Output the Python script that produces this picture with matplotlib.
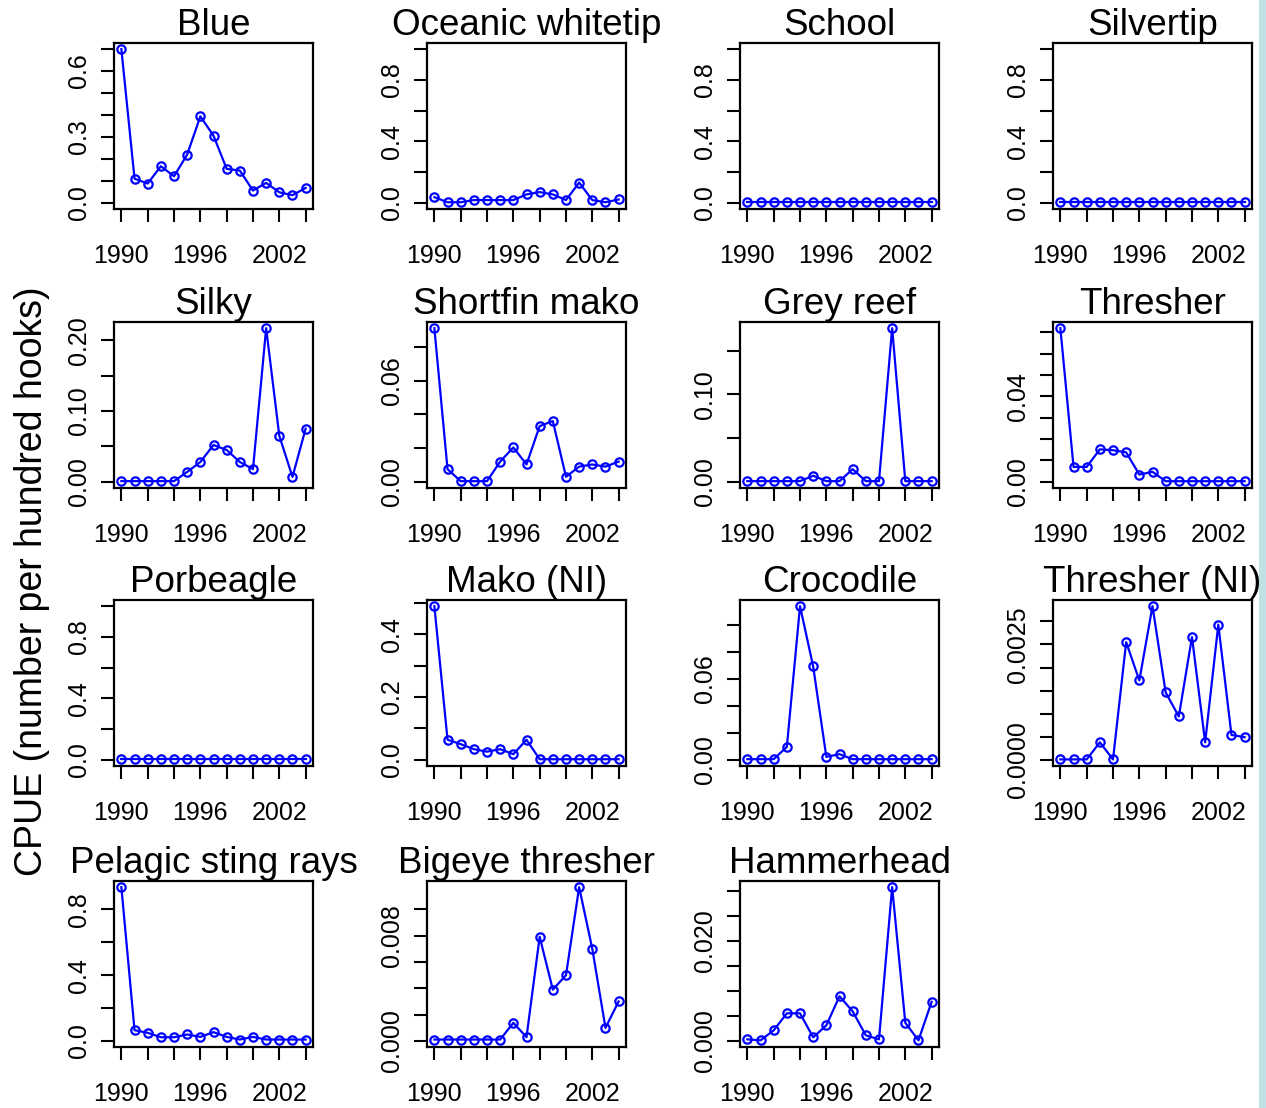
import matplotlib
matplotlib.use("Agg")
import matplotlib.pyplot as plt
from matplotlib.patches import Rectangle

plt.rcParams['font.family'] = ['Liberation Sans', 'DejaVu Sans']

# 年份与横轴刻度
years = list(range(1990, 2005))
x_ticks = list(range(1990, 2005, 2))
x_tick_labels = ['1990', '', '', '1996', '', '', '2002', '']

species = ['Blue', 'Oceanic whitetip', 'School', 'Silvertip',
           'Silky', 'Shortfin mako', 'Grey reef', 'Thresher',
           'Porbeagle', 'Mako (NI)', 'Crocodile', 'Thresher (NI)',
           'Pelagic sting rays', 'Bigeye thresher', 'Hammerhead']

# 每个物种的 CPUE（1990-2004）
blue = [0.70, 0.11, 0.088, 0.167, 0.121, 0.22, 0.394, 0.306, 0.155, 0.147,
        0.056, 0.091, 0.048, 0.035, 0.068]
oceanic_whitetip = [0.037, 0.004, 0.004, 0.018, 0.018, 0.018, 0.018, 0.055,
                    0.07, 0.055, 0.018, 0.132, 0.018, 0.004, 0.022]
school = [0.003] * 15
silvertip = [0.003] * 15
silky = [0.001, 0.001, 0.001, 0.001, 0.001, 0.014, 0.028, 0.052, 0.045, 0.028,
         0.018, 0.217, 0.065, 0.007, 0.075]
shortfin_mako = [0.091, 0.0075, 0.0004, 0.0004, 0.0004, 0.012, 0.0204, 0.0103,
                 0.033, 0.036, 0.003, 0.009, 0.0103, 0.009, 0.012]
grey_reef = [0.0008, 0.0008, 0.0008, 0.0008, 0.0008, 0.007, 0.0008, 0.0008,
             0.0145, 0.0008, 0.0008, 0.1756, 0.0008, 0.0008, 0.0008]
thresher = [0.0719, 0.0070, 0.0070, 0.0152, 0.0148, 0.0138, 0.0034, 0.0047,
            0.0003, 0.0003, 0.0003, 0.0003, 0.0003, 0.0003, 0.0003]
porbeagle = [0.003] * 15
mako_ni = [0.489, 0.064, 0.050, 0.034, 0.026, 0.034, 0.018, 0.064, 0.002,
           0.002, 0.002, 0.002, 0.002, 0.002, 0.002]
crocodile = [0.0005, 0.0005, 0.0005, 0.0096, 0.1136, 0.069, 0.0022, 0.0042,
             0.0005, 0.0005, 0.0005, 0.0005, 0.0005, 0.0005, 0.0005]
thresher_ni = [0.00001, 0.00001, 0.00001, 0.00038, 0.00001, 0.00255, 0.00172,
               0.00333, 0.00146, 0.00094, 0.00266, 0.00038, 0.00293, 0.00054,
               0.00049]
pelagic_sting_rays = [0.936, 0.065, 0.049, 0.022, 0.022, 0.039, 0.024, 0.053,
                      0.024, 0.008, 0.024, 0.008, 0.008, 0.008, 0.008]
bigeye_thresher = [0.0001, 0.0001, 0.0001, 0.0001, 0.0001, 0.0001, 0.00137,
                   0.00028, 0.00792, 0.0039, 0.005, 0.0117, 0.0070, 0.00099,
                   0.0030]
hammerhead = [0.0003, 0.0001, 0.0021, 0.0055, 0.0055, 0.0007, 0.0031, 0.0089,
              0.0059, 0.0011, 0.0003, 0.0307, 0.0036, 0.0001, 0.0078]

series = [blue, oceanic_whitetip, school, silvertip,
          silky, shortfin_mako, grey_reef, thresher,
          porbeagle, mako_ni, crocodile, thresher_ni,
          pelagic_sting_rays, bigeye_thresher, hammerhead]

# 纵轴上限固定为 1 的物种
fixed_top = {'Oceanic whitetip': 1.0, 'School': 1.0, 'Silvertip': 1.0,
             'Porbeagle': 1.0}

# 纵轴刻度及显示的标签（重叠的标签留空）
unit_ticks = [0.0, 0.2, 0.4, 0.6, 0.8, 1.0]
unit_labels = ['0.0', '', '0.4', '', '0.8', '']
y_ticks = [
    [0.0, 0.1, 0.2, 0.3, 0.4, 0.5, 0.6, 0.7],
    unit_ticks, unit_ticks, unit_ticks,
    [0.0, 0.05, 0.10, 0.15, 0.20],
    [0.0, 0.02, 0.04, 0.06, 0.08],
    [0.0, 0.05, 0.10, 0.15],
    [0.0, 0.01, 0.02, 0.03, 0.04, 0.05, 0.06, 0.07],
    unit_ticks,
    [0.0, 0.1, 0.2, 0.3, 0.4, 0.5],
    [0.0, 0.02, 0.04, 0.06, 0.08, 0.10],
    [0.0, 0.0005, 0.0010, 0.0015, 0.0020, 0.0025, 0.0030],
    [0.0, 0.2, 0.4, 0.6, 0.8],
    [0.0, 0.002, 0.004, 0.006, 0.008, 0.010],
    [0.0, 0.005, 0.010, 0.015, 0.020, 0.025, 0.030],
]
y_tick_labels = [
    ['0.0', '', '', '0.3', '', '', '0.6', ''],
    unit_labels, unit_labels, unit_labels,
    ['0.00', '', '0.10', '', '0.20'],
    ['0.00', '', '', '0.06', ''],
    ['0.00', '', '0.10', ''],
    ['0.00', '', '', '', '0.04', '', '', ''],
    unit_labels,
    ['0.0', '', '0.2', '', '0.4', ''],
    ['0.00', '', '', '0.06', '', ''],
    ['0.0000', '', '', '', '', '0.0025', ''],
    ['0.0', '', '0.4', '', '0.8'],
    ['0.000', '', '', '', '0.008', ''],
    ['0.000', '', '', '', '0.020', '', ''],
]

W, H = 1266, 1108
fig = plt.figure(figsize=(W / 100, H / 100), dpi=100)
fig.patch.set_facecolor('white')

# 右侧浅青色边条
fig.patches.append(Rectangle((1259 / W, 0), 7 / W, 1, transform=fig.transFigure,
                             facecolor='#bde1e4', edgecolor='none'))

col_left = [114, 427, 740, 1053]
row_top = [43, 322, 600, 881]
box_w, box_h = 199, 166

for i, (name, vals) in enumerate(zip(species, series)):
    r, c = divmod(i, 4)
    ax = fig.add_axes([col_left[c] / W, 1 - (row_top[r] + box_h) / H,
                       box_w / W, box_h / H])
    ax.plot(years, vals, color='#0000ff', lw=1.6, marker='o', ms=6,
            mfc='none', mec='#0000ff', mew=1.6)

    # R 风格：坐标范围两端各延伸 4%
    top = fixed_top.get(name, max(vals))
    ax.set_ylim(-0.04 * top, 1.04 * top)
    ax.set_xlim(1990 - 0.04 * 14, 2004 + 0.04 * 14)

    ax.set_xticks(x_ticks)
    ax.set_xticklabels(x_tick_labels)
    ax.set_yticks(y_ticks[i])
    ax.set_yticklabels(y_tick_labels[i], rotation=90, va='center')

    ax.tick_params(axis='both', direction='out', length=9.5, width=1.5,
                   labelsize=18, color='black')
    ax.tick_params(axis='x', pad=16)
    ax.tick_params(axis='y', pad=7)
    for sp in ax.spines.values():
        sp.set_linewidth(1.6)
    ax.set_title(name, fontsize=26.5, pad=5)

fig.text(32 / W, 1 - 581 / H, 'CPUE (number per hundred hooks)', rotation=90,
         ha='center', va='center', fontsize=27)

fig.savefig('out.png', dpi=100)
